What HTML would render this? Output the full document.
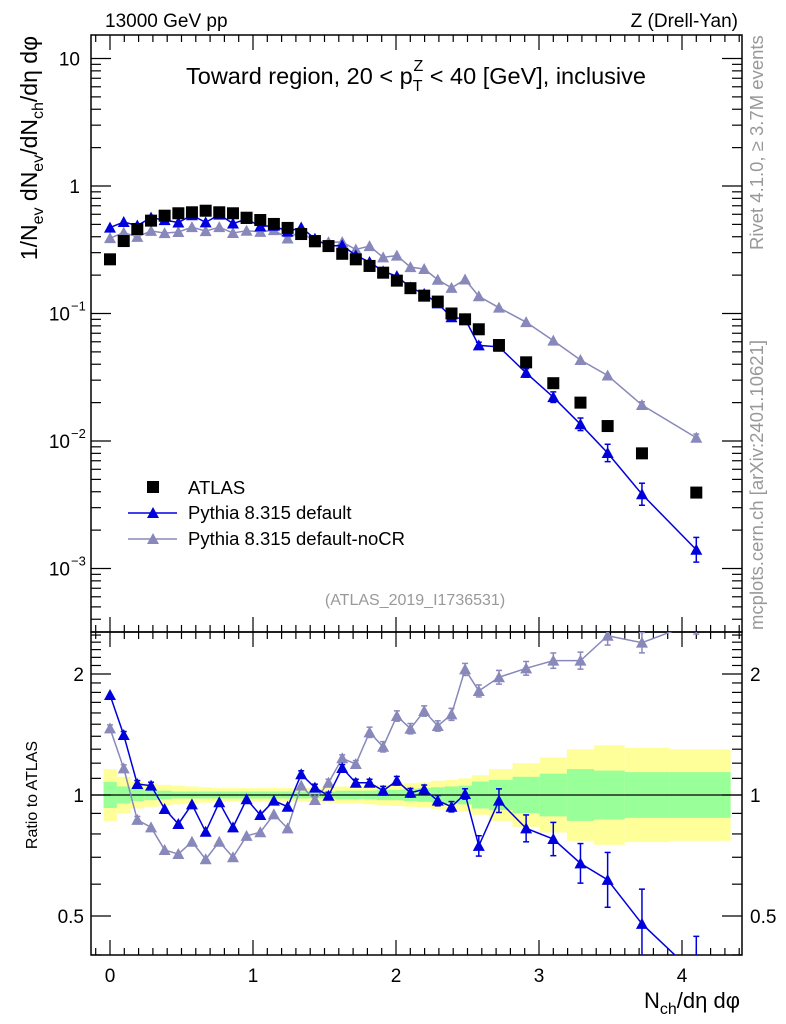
<!DOCTYPE html>
<html><head><meta charset="utf-8">
<style>
html,body{margin:0;padding:0;background:#fff;}
svg{display:block;font-family:"Liberation Sans",Arial,sans-serif;}
</style></head>
<body>
<svg id="chart" width="786" height="1024" viewBox="0 0 786 1024" xmlns="http://www.w3.org/2000/svg">
<g id="bands"></g>
<g id="axes"></g>
<g id="series"></g>
<text x="105" y="27" font-size="19">13000 GeV pp</text>
<text x="738" y="27" font-size="19" text-anchor="end">Z (Drell-Yan)</text>
<text x="416" y="84" font-size="23.5" text-anchor="middle">Toward region, 20 &lt; p<tspan font-size="16" dy="7">T</tspan><tspan font-size="16" dx="-9" dy="-20">Z</tspan><tspan dy="13"> &lt; 40 [GeV], inclusive</tspan></text>
<text x="415" y="605" font-size="16" fill="#999" text-anchor="middle">(ATLAS_2019_I1736531)</text>
<text transform="translate(763,250) rotate(-90)" font-size="18.5" fill="#999">Rivet 4.1.0, ≥ 3.7M events</text>
<text transform="translate(763,630) rotate(-90)" font-size="18.5" fill="#999">mcplots.cern.ch [arXiv:2401.10621]</text>
<text transform="translate(37,36) rotate(-90)" font-size="23" text-anchor="end">1/N<tspan font-size="16" dy="6">ev</tspan><tspan dy="-6"> dN</tspan><tspan font-size="16" dy="6">ev</tspan><tspan dy="-6">/dN</tspan><tspan font-size="16" dy="6">ch</tspan><tspan dy="-6">/dη dφ</tspan></text>
<text transform="translate(37,795) rotate(-90)" font-size="16" text-anchor="middle">Ratio to ATLAS</text>
<text x="740" y="1008" font-size="22" text-anchor="end">N<tspan font-size="16" dy="6">ch</tspan><tspan dy="-6">/dη dφ</tspan></text>
<g>
<rect x="147" y="481" width="12" height="12" fill="#000"/>
<text x="188" y="494" font-size="18.5">ATLAS</text>
<line x1="128" y1="513" x2="177" y2="513" stroke="#0000dd" stroke-width="1.5"/>
<polygon points="153,507 147,518 159,518" fill="#0000dd"/>
<text x="188" y="519" font-size="18.5">Pythia 8.315 default</text>
<line x1="128" y1="539" x2="177" y2="539" stroke="#8888bb" stroke-width="1.5"/>
<polygon points="153,533 147,544 159,544" fill="#8888bb"/>
<text x="188" y="545" font-size="18.5">Pythia 8.315 default-noCR</text>
</g>
</svg>
<script>
const xVals=[0,0.096,0.191,0.287,0.382,0.478,0.573,0.669,0.764,0.860,0.955,1.051,1.146,1.242,1.337,1.433,1.528,1.624,1.719,1.815,1.910,2.006,2.101,2.197,2.292,2.388,2.483,2.579,2.72,2.91,3.10,3.29,3.48,3.72,4.10];
const atlasVals=[0.266,0.370,0.460,0.535,0.585,0.611,0.622,0.640,0.622,0.611,0.564,0.541,0.504,0.469,0.420,0.370,0.338,0.294,0.266,0.236,0.209,0.181,0.158,0.138,0.124,0.100,0.090,0.0752,0.0566,0.0414,0.0284,0.0200,0.0131,0.0080,0.00394];
const defaultRatio=[1.773,1.41,1.065,1.055,0.923,0.847,0.948,0.810,0.959,0.831,0.976,0.892,0.968,0.935,1.126,1.043,0.996,1.167,1.073,1.073,1.025,1.085,1.013,1.033,0.968,0.935,1.006,0.747,0.968,0.826,0.777,0.676,0.615,0.478,0.356];
const nocrRatio=[1.465,1.165,0.867,0.831,0.730,0.713,0.765,0.692,0.765,0.700,0.791,0.808,0.895,0.826,1.055,0.972,1.073,1.234,1.194,1.432,1.318,1.572,1.462,1.618,1.485,1.587,2.053,1.815,1.963,2.066,2.159,2.159,2.49,2.393,2.69];
const defaultErr=[0.015,0.02,0.02,0.02,0.015,0.015,0.015,0.015,0.015,0.015,0.015,0.015,0.015,0.015,0.02,0.02,0.02,0.02,0.02,0.02,0.025,0.025,0.025,0.025,0.03,0.03,0.03,0.06,0.07,0.08,0.1,0.12,0.17,0.22,0.25];
const nocrErr=[0.02,0.02,0.02,0.015,0.015,0.015,0.015,0.015,0.015,0.015,0.015,0.015,0.015,0.015,0.015,0.02,0.02,0.02,0.02,0.03,0.03,0.03,0.03,0.03,0.03,0.035,0.035,0.035,0.04,0.04,0.045,0.05,0.055,0.06,0.07];
const totUnc=[1.16,1.11,1.08,1.07,1.06,1.055,1.05,1.045,1.04,1.04,1.04,1.04,1.04,1.04,1.04,1.04,1.045,1.05,1.05,1.055,1.06,1.065,1.07,1.075,1.085,1.09,1.10,1.12,1.16,1.20,1.24,1.30,1.33,1.31,1.30];
const statUnc=[1.077,1.05,1.035,1.03,1.025,1.02,1.02,1.02,1.02,1.02,1.02,1.02,1.02,1.02,1.02,1.02,1.02,1.025,1.025,1.025,1.03,1.03,1.035,1.04,1.045,1.05,1.055,1.08,1.09,1.11,1.13,1.16,1.15,1.14,1.14];
const xTicks=[0,1,2,3,4];
const mainTicks=[10,1,0.1,0.01,0.001];
const mainTickLabels=["10","1","10","10","10"];
const mainTickExp=["","","−1","−2","−3"];
const ratioTicks=[2,1,0.5];
const ratioTickLabels=["2","1","0.5"];

const NS="http://www.w3.org/2000/svg";
const L=91,R=742,T=35,MB=632,RB=955;
const xS=v=>110+143*v;
const yM=v=>186-127.5*Math.log10(v);
const yR=v=>795-121*Math.log2(v);
function mk(tag,attrs,parent){const e=document.createElementNS(NS,tag);for(const k in attrs)e.setAttribute(k,attrs[k]);parent.appendChild(e);return e;}
const svg=document.getElementById('chart');
const gB=document.getElementById('bands'),gA=document.getElementById('axes'),gS=document.getElementById('series');

const defs=mk('defs',{},svg);
const cm=mk('clipPath',{id:'cmain'},defs);mk('rect',{x:L,y:T,width:R-L,height:MB-T},cm);
const cr=mk('clipPath',{id:'cratio'},defs);mk('rect',{x:L,y:MB,width:R-L,height:RB-MB},cr);
gB.setAttribute('clip-path','url(#cratio)');

for(let i=0;i<xVals.length;i++){
  const x0=i===0?xVals[0]-0.045:(xVals[i-1]+xVals[i])/2;
  const x1=i===xVals.length-1?4.34:(xVals[i]+xVals[i+1])/2;
  const y=mk('rect',{x:xS(x0),y:yR(totUnc[i]),width:xS(x1)-xS(x0),height:yR(1/totUnc[i])-yR(totUnc[i]),fill:'#ffff99'},gB);
  
  
}
for(let i=0;i<xVals.length;i++){
  const x0=i===0?xVals[0]-0.045:(xVals[i-1]+xVals[i])/2;
  const x1=i===xVals.length-1?4.34:(xVals[i]+xVals[i+1])/2;
  const g=mk('rect',{x:xS(x0),y:yR(statUnc[i]),width:xS(x1)-xS(x0),height:yR(1/statUnc[i])-yR(statUnc[i]),fill:'#99ff99'},gB);
  
  
}
const one=mk('line',{x1:L,x2:R,y1:yR(1),y2:yR(1),stroke:'#000','stroke-width':1.3},gB);



const f1=mk('rect',{x:L,y:T,width:R-L,height:MB-T,fill:'none',stroke:'#000','stroke-width':1.5},gA);


const f2=mk('rect',{x:L,y:MB,width:R-L,height:RB-MB,fill:'none',stroke:'#000','stroke-width':1.5},gA);



for(let k=-1;k<=46;k++){
  const v=k/10;const x=xS(v);if(x<L||x>R)continue;
  const major=k%10===0;const len=major?15:7;
  for(const [y0,d] of [[T,1],[MB,-1],[MB,1],[RB,-1]]){
    mk('line',{x1:x,x2:x,y1:y0,y2:y0+d*len,stroke:'#000','stroke-width':1.2},gA);
  }
}
xTicks.forEach(v=>{
  const t=mk('text',{x:xS(v),y:982,'font-size':19,'text-anchor':'middle'},gA);
  t.textContent=String(v);
  
  
});
for(let d=-4;d<=1;d++){
  for(let m=1;m<=9;m++){
    const v=m*Math.pow(10,d);const y=yM(v);if(y<T||y>MB)continue;
    const len=m===1?20:10;
    mk('line',{x1:L,x2:L+len,y1:y,y2:y,stroke:'#000','stroke-width':1.2},gA);
    mk('line',{x1:R,x2:R-len,y1:y,y2:y,stroke:'#000','stroke-width':1.2},gA);
  }
}
mainTicks.forEach((v,i)=>{
  const t=mk('text',{x:mainTickExp[i]?70:80,y:yM(v)+7,'font-size':19,'text-anchor':'end'},gA);
  t.textContent=mainTickLabels[i];
  
  
  if(mainTickExp[i]){
    const s=mk('text',{x:71,y:yM(v)-3,'font-size':13},gA);
    s.textContent=mainTickExp[i];
    
    
  }
});
for(let k=1;k<=26;k++){
  const v=k/10;const y=yR(v);if(y<MB||y>RB)continue;
  const major=(k===5||k===10||k===20);const len=major?20:10;
  mk('line',{x1:L,x2:L+len,y1:y,y2:y,stroke:'#000','stroke-width':1.2},gA);
  mk('line',{x1:R,x2:R-len,y1:y,y2:y,stroke:'#000','stroke-width':1.2},gA);
}
ratioTicks.forEach((v,i)=>{
  const t=mk('text',{x:84,y:yR(v)+7,'font-size':19,'text-anchor':'end'},gA);
  t.textContent=ratioTickLabels[i];
  
  
  const t2=mk('text',{x:750,y:yR(v)+7,'font-size':19},gA);
  t2.textContent=ratioTickLabels[i];
  
  
});

function tri(parent,x,y,c){return mk('polygon',{points:`${x},${y-6} ${x-6},${y+5} ${x+6},${y+5}`,fill:c},parent);}
function drawMC(ratio,err,color,name){
  const gm=mk('g',{'clip-path':'url(#cmain)'},gS);
  const gr=mk('g',{'clip-path':'url(#cratio)'},gS);
  const pm=xVals.map((x,i)=>`${xS(x)},${yM(atlasVals[i]*ratio[i])}`).join(' ');
  const pr=xVals.map((x,i)=>`${xS(x)},${yR(ratio[i])}`).join(' ');
  const l1=mk('polyline',{points:pm,fill:'none',stroke:color,'stroke-width':1.5},gm);
  
  
  const l2=mk('polyline',{points:pr,fill:'none',stroke:color,'stroke-width':1.5},gr);
  
  
  xVals.forEach((x,i)=>{
    const X=xS(x);const v=atlasVals[i]*ratio[i];
    for(const [g,f,val] of [[gm,yM,v],[gr,yR,ratio[i]]]){
      const yu=f(val*(1+err[i])),yd=f(val/(1+err[i]));
      if(yd-yu>6){
        mk('line',{x1:X,x2:X,y1:yu,y2:yd,stroke:color,'stroke-width':1.5},g);
        mk('line',{x1:X-3,x2:X+3,y1:yu,y2:yu,stroke:color,'stroke-width':1.5},g);
        mk('line',{x1:X-3,x2:X+3,y1:yd,y2:yd,stroke:color,'stroke-width':1.5},g);
      }
      const p=tri(g,X,f(val),color);
      
      
    }
  });
}
drawMC(nocrRatio,nocrErr,'#8888bb','pythia-nocr');
drawMC(defaultRatio,defaultErr,'#0000dd','pythia-default');
xVals.forEach((x,i)=>{
  const r=mk('rect',{x:xS(x)-6,y:yM(atlasVals[i])-6,width:12,height:12,fill:'#000'},gS);
  
  
});
</script>
</body></html>
